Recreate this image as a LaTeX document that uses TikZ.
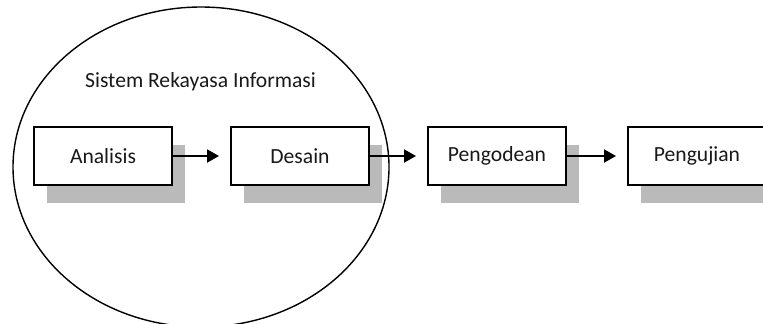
\documentclass[tikz,border=0pt]{standalone}
\usepackage{fontspec}
\setmainfont{Carlito}
\usetikzlibrary{arrows.meta,positioning,shadows,shapes.geometric}

\begin{document}
\begin{tikzpicture}[x=0.5pt, y=-0.5pt,
            every node/.style={font=\fontsize{10.8}{13}\selectfont, text=black!90},
            tahap/.style={draw, line width=1pt, fill=white, minimum width=69pt, minimum height=29pt,
                          inner sep=0pt, general shadow={fill=black!27, shadow xshift=6.25pt, shadow yshift=-8.75pt}},
            every path/.style={line width=1pt, -{Triangle[length=6pt,width=6.5pt]}, shorten >=5.5pt}]
        \useasboundingbox (0,0) rectangle (763,323);
        \node (judul) at (200.5,82) {Sistem Rekayasa Informasi};
        \node[tahap] (analisis) at (103,156) {Analisis};
        \node[tahap, right=28.5pt of analisis] (desain) {Desain};
        \node[tahap, right=28.5pt of desain] (pengodean) {Pengodean};
        \node[tahap, right=30pt of pengodean] (pengujian) {Pengujian};
        \node[draw, ellipse, line width=0.7pt, minimum width=188pt, minimum height=160pt, inner sep=0pt] (sri) at (201,167) {};
        \draw (analisis) -- (desain);
        \draw (desain) -- (pengodean);
        \draw (pengodean) -- (pengujian);
\end{tikzpicture}
\end{document}
